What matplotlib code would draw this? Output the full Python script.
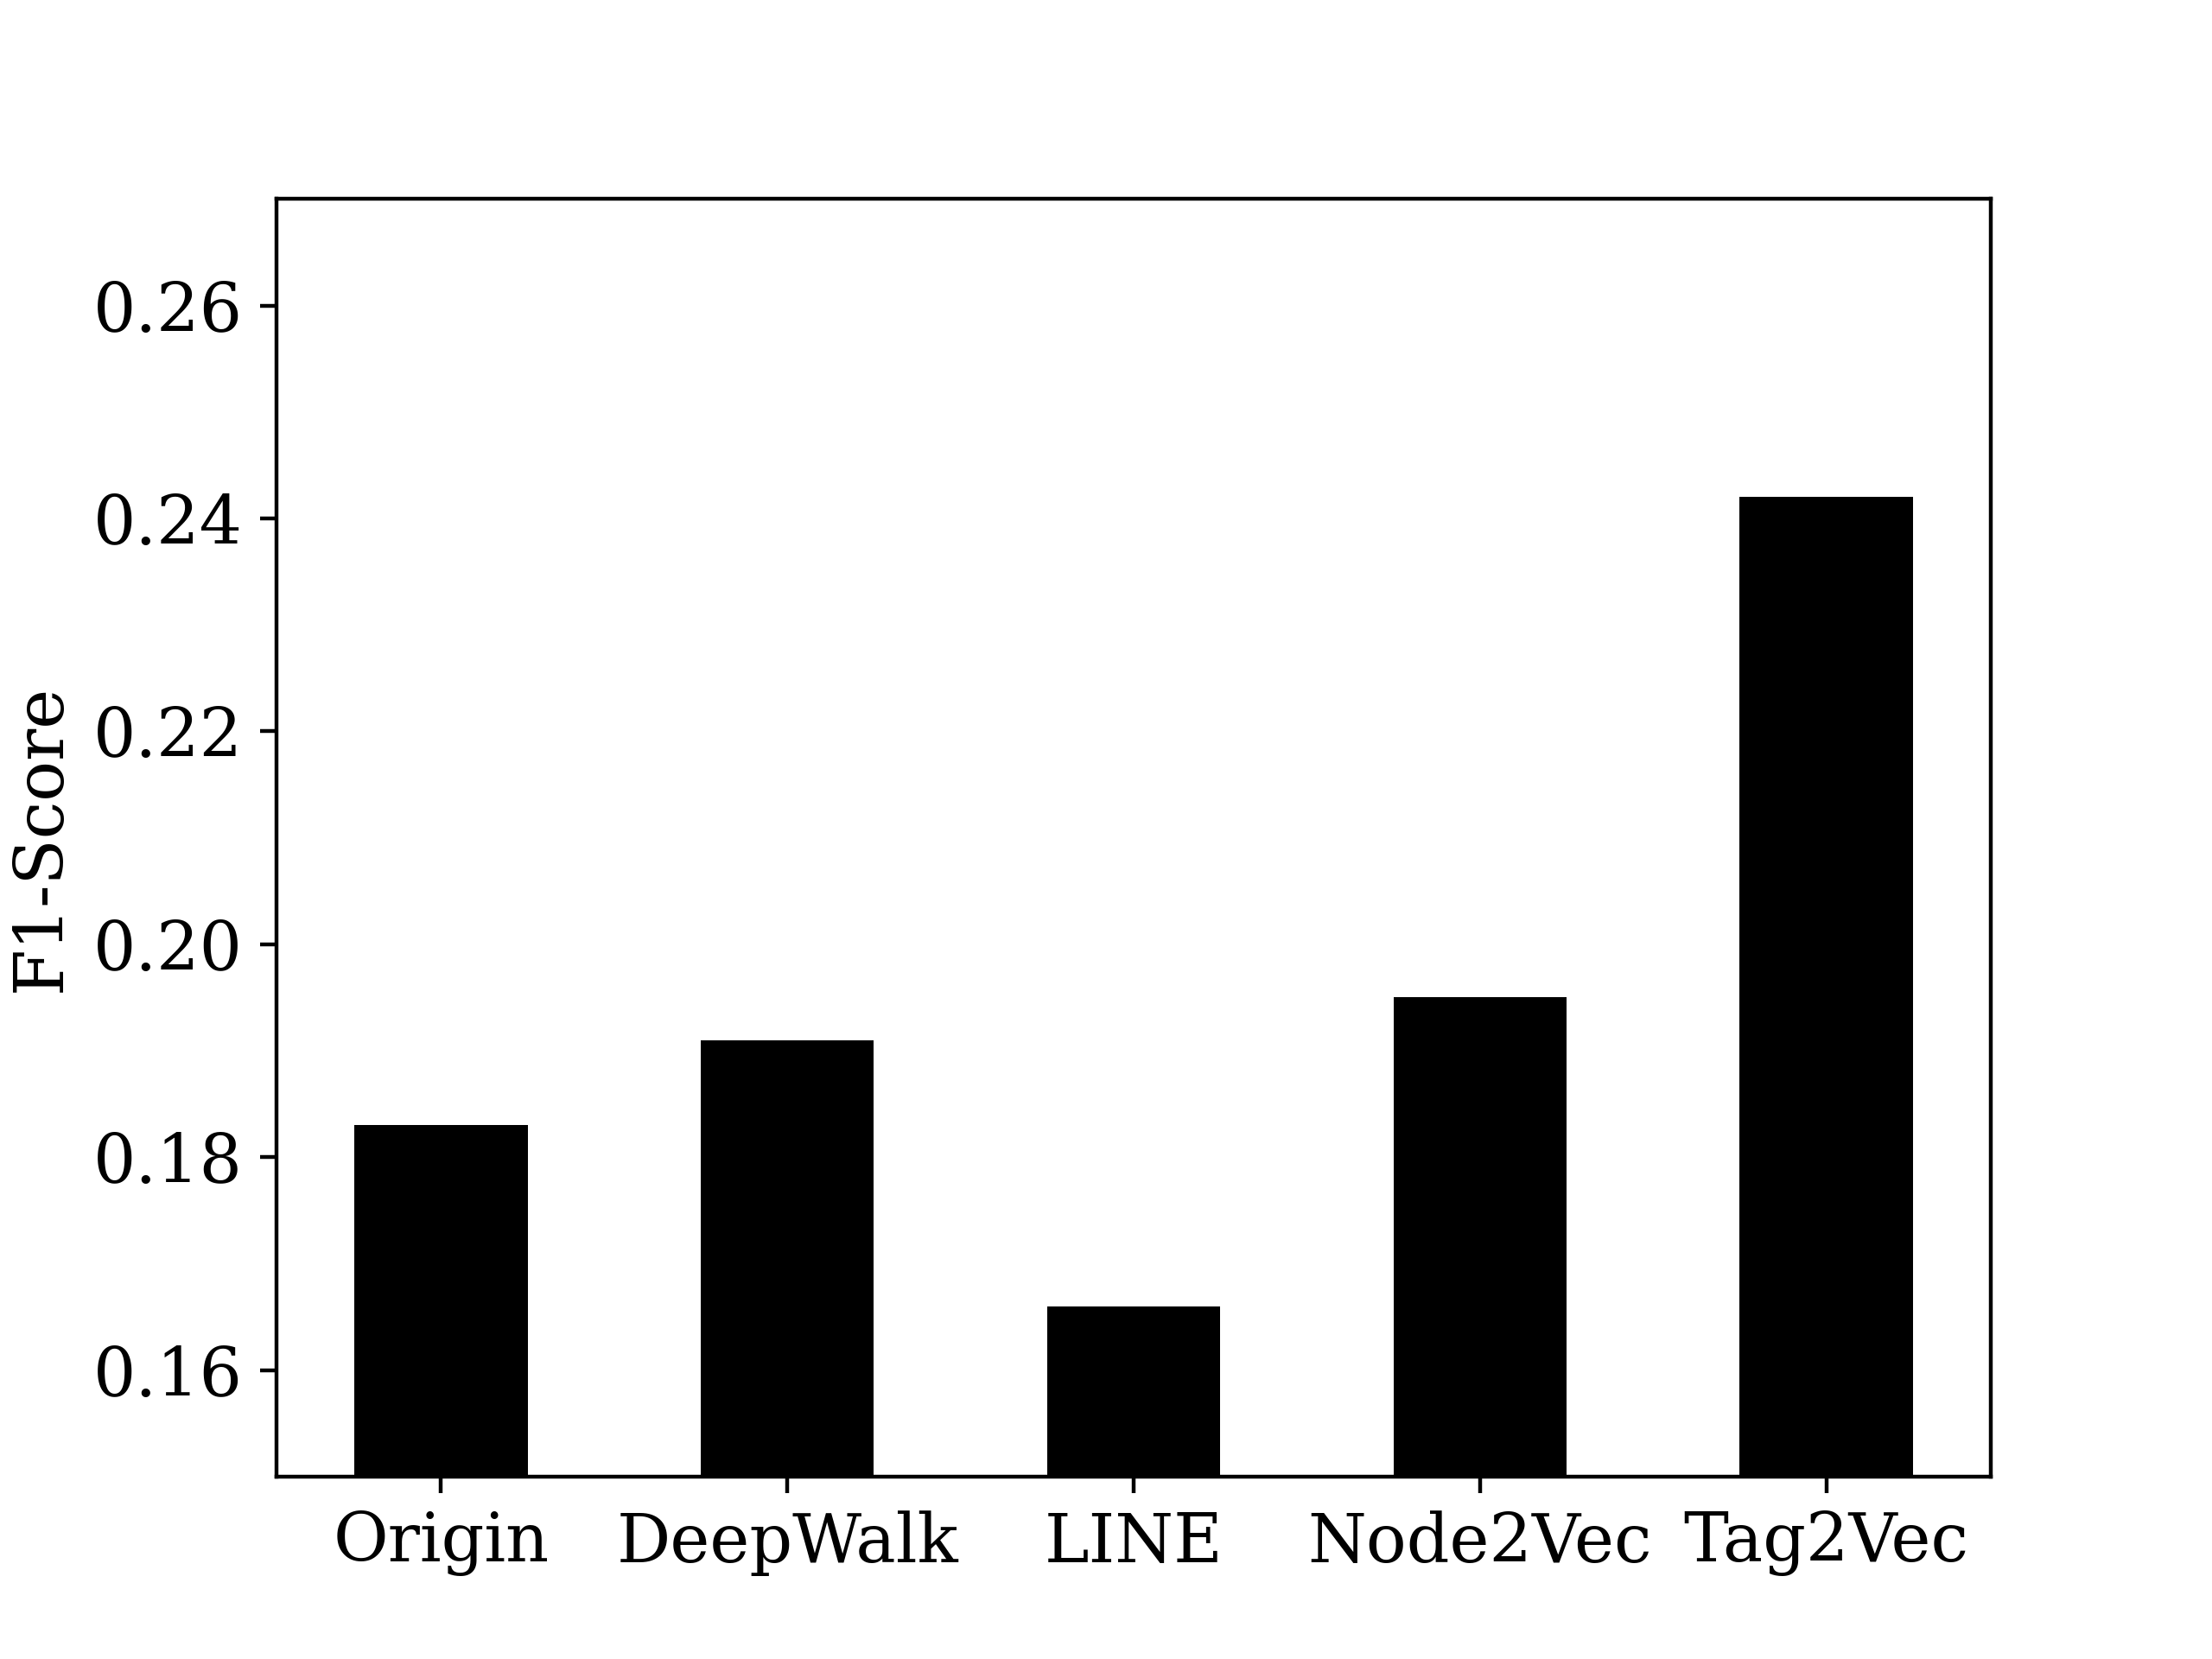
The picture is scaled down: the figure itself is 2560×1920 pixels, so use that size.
import matplotlib
matplotlib.use("Agg")
import matplotlib.pyplot as plt

# Data
methods = ["Origin", "DeepWalk", "LINE", "Node2Vec", "Tag2Vec"]
f1_scores = [0.183, 0.191, 0.166, 0.195, 0.242]

plt.rcParams["font.family"] = "DejaVu Serif"
plt.rcParams["font.size"] = 14

fig, ax = plt.subplots(figsize=(6.4, 4.8), dpi=400)
ax.bar(methods, f1_scores, width=0.5, color="black")
ax.set_ylim(0.15, 0.27)
ax.set_yticks([0.16, 0.18, 0.20, 0.22, 0.24, 0.26])
ax.set_ylabel("F1-Score")

plt.savefig("out.png", dpi=400)
